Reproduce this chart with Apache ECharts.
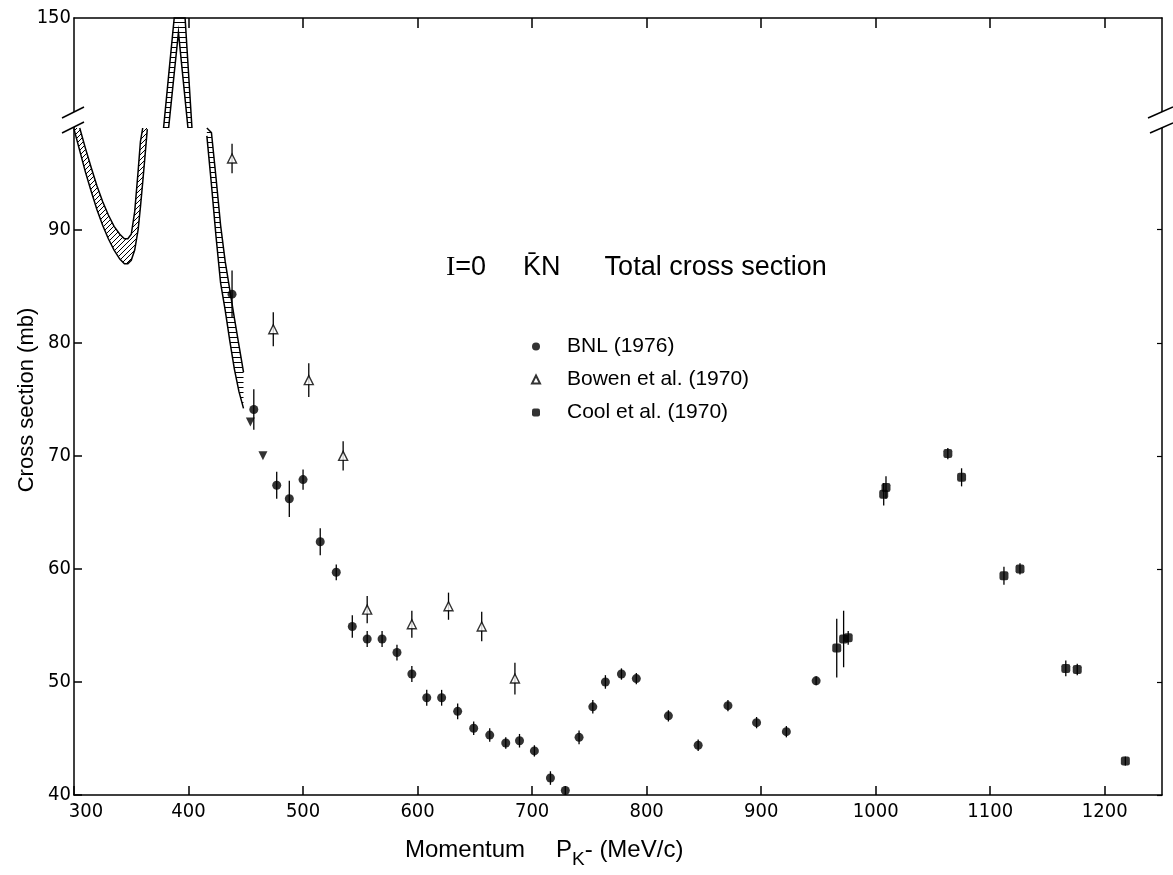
<!DOCTYPE html>
<html>
<head>
<meta charset="utf-8">
<title>I=0 KN total cross section</title>
<script src="https://cdn.jsdelivr.net/npm/echarts@6.0.0/dist/echarts.min.js"></script>
<style>
    html, body { margin: 0; padding: 0; background: #fff; }
    #chart { width: 1173px; height: 875px; }
</style>
</head>
<body>
<div id="chart"></div>
<script>
// tick labels
var xTicks = [300, 400, 500, 600, 700, 800, 900, 1000, 1100, 1200];
var xTopTicks = [400, 500, 600, 700, 800, 900, 1000, 1100, 1200];
var yTicks = [40, 50, 60, 70, 80, 90];
var yTopTicks = [150];

// BNL (1976)
var bnlX = [438, 457, 477, 488, 500, 515, 529, 543, 556, 569, 582, 595, 608, 621, 635, 649, 663, 677, 689, 702, 716, 729, 741, 753, 764, 778, 791, 819, 845, 871, 896, 922, 948];
var bnlY = [84.3, 74.1, 67.4, 66.2, 67.9, 62.4, 59.7, 54.9, 53.8, 53.8, 52.6, 50.7, 48.6, 48.6, 47.4, 45.9, 45.3, 44.6, 44.8, 43.9, 41.5, 40.4, 45.1, 47.8, 50.0, 50.7, 50.3, 47.0, 44.4, 47.9, 46.4, 45.6, 50.1];
var bnlErr = [2.1, 1.8, 1.2, 1.6, 0.9, 1.2, 0.7, 1.0, 0.7, 0.7, 0.7, 0.7, 0.7, 0.7, 0.7, 0.6, 0.6, 0.5, 0.6, 0.5, 0.6, 0.4, 0.6, 0.6, 0.6, 0.5, 0.5, 0.5, 0.5, 0.5, 0.5, 0.5, 0.4];

// Bowen et al. (1970)
var bowenX = [438, 474, 505, 535, 556, 595, 627, 656, 685];
var bowenY = [96.3, 81.2, 76.7, 70.0, 56.4, 55.1, 56.7, 54.9, 50.3];
var bowenErr = [1.3, 1.5, 1.5, 1.3, 1.2, 1.2, 1.2, 1.3, 1.4];

// Cool et al. (1970)
var coolX = [966, 972, 976, 1007, 1009, 1063, 1075, 1112, 1126, 1166, 1176, 1218];
var coolY = [53.0, 53.8, 53.9, 66.6, 67.2, 70.2, 68.1, 59.4, 60.0, 51.2, 51.1, 43.0];
var coolErr = [2.6, 2.5, 0.6, 1.0, 1.0, 0.5, 0.8, 0.8, 0.5, 0.7, 0.5, 0.4];

// filled down triangles (not in legend)
var otherX = [454, 465];
var otherY = [73.0, 70.0];

// hatched bands, lower panel (40-99)
var dipX  = [300, 305, 310, 315, 320, 325, 330, 335, 340, 344, 347, 350, 353, 356, 358, 360, 362, 364];
var dipLo = [98.9, 97.0, 95.1, 93.4, 91.8, 90.4, 89.2, 88.2, 87.4, 87.0, 87.0, 87.3, 88.2, 90.0, 92.0, 94.2, 96.5, 98.9];
var dipHi = [99.0, 99.0, 97.2, 95.5, 93.9, 92.5, 91.3, 90.3, 89.6, 89.2, 89.2, 89.6, 91.6, 95.2, 97.8, 99.0, 99.0, 99.0];

var fallX  = [416, 420, 424, 428, 432, 436, 440, 444, 448];
var fallLo = [98.3, 94.0, 89.4, 85.3, 82.9, 80.2, 77.7, 75.7, 74.2];
var fallHi = [99.0, 98.6, 94.6, 90.4, 87.2, 84.7, 82.2, 79.8, 77.4];

// hatched band, upper panel (100-150)
var peakX  = [378.2, 382.6, 387.5, 391.2, 394, 397, 399.5, 403];
var peakLo = [100, 100, 124.8, 143.5, 128.8, 113.1, 100, 100];
var peakHi = [100, 123.7, 150, 150, 150, 150, 129.2, 100];

var narrow = "'DejaVu Sans Condensed', 'Liberation Sans Narrow', 'Liberation Sans', sans-serif";
var sans = "'Liberation Sans', Arial, sans-serif";

function hatch(kind) {
    var c = document.createElement('canvas');
    c.width = 5;
    c.height = 5;
    var g = c.getContext('2d');
    g.strokeStyle = '#000';
    g.lineWidth = 1;
    g.beginPath();
    if (kind == 'diag') {
        g.moveTo(0, 5); g.lineTo(5, 0);
        g.moveTo(-1, 1); g.lineTo(1, -1);
        g.moveTo(4, 6); g.lineTo(6, 4);
    } else {
        g.moveTo(0, 2.5); g.lineTo(5, 2.5);
    }
    g.stroke();
    return { image: c, repeat: 'repeat' };
}

// keeps the outline open where the band runs into the axis break
function edgePoints(pts, vals, lowCap, highCap) {
    var out = [];
    for (var i = 0; i < pts.length; i++) {
        var cut = function (k) { return k < 0 || k >= vals.length || vals[k] <= lowCap || vals[k] >= highCap; };
        if (!cut(i) || !cut(i - 1) || !cut(i + 1)) out.push(pts[i]);
    }
    return out;
}

function band(xs, lo, hi, fill, axisIdx, yIdx, lowCap, highCap) {
    return {
        type: 'custom',
        xAxisIndex: axisIdx,
        yAxisIndex: yIdx,
        silent: true,
        z: 1,
        data: [[xs[0], lo[0]]],
        renderItem: function (params, api) {
            var bottom = [], top = [];
            for (var i = 0; i < xs.length; i++) {
                bottom.push(api.coord([xs[i], lo[i]]));
                top.push(api.coord([xs[i], hi[i]]));
            }
            var ring = bottom.concat(top.slice().reverse());
            return {
                type: 'group',
                children: [
                    { type: 'polygon', shape: { points: ring }, style: { fill: fill, stroke: null } },
                    { type: 'polyline', shape: { points: edgePoints(bottom, lo, lowCap, highCap) }, style: { fill: null, stroke: '#000', lineWidth: 1.5 } },
                    { type: 'polyline', shape: { points: edgePoints(top, hi, lowCap, highCap) }, style: { fill: null, stroke: '#000', lineWidth: 1.5 } }
                ]
            };
        }
    };
}

function errorBars(xs, ys, es) {
    var d = [];
    for (var i = 0; i < xs.length; i++) {
        d.push([xs[i], ys[i] - es[i], ys[i] + es[i]]);
    }
    return {
        type: 'custom',
        xAxisIndex: 0,
        yAxisIndex: 0,
        silent: true,
        z: 1,
        encode: { x: 0, y: [1, 2] },
        data: d,
        renderItem: function (params, api) {
            var a = api.coord([api.value(0), api.value(1)]);
            var b = api.coord([api.value(0), api.value(2)]);
            return {
                type: 'line',
                shape: { x1: a[0], y1: a[1], x2: b[0], y2: b[1] },
                style: { stroke: '#000', lineWidth: 1.3 }
            };
        }
    };
}

function pairs(xs, ys) {
    var d = [];
    for (var i = 0; i < xs.length; i++) d.push([xs[i], ys[i]]);
    return d;
}

var axisLine = { show: true, onZero: false, lineStyle: { color: '#000', width: 1.5 } };

var myChart = echarts.init(document.getElementById('chart'));
var option = {
    animation: false,
    backgroundColor: '#fff',
    title: {
        text: '{i|I}{a|=0}{b|K\u0304N}{c|Total cross section}',
        left: 441,
        top: 249,
        textStyle: {
            fontWeight: 'normal',
            rich: {
                i: { fontSize: 28, fontWeight: 'normal', fontFamily: "'Liberation Serif', serif", color: '#000' },
                a: { fontSize: 27, fontWeight: 'normal', fontFamily: sans, color: '#000' },
                b: { fontSize: 27, fontWeight: 'normal', fontFamily: sans, color: '#000', padding: [0, 0, 0, 37] },
                c: { fontSize: 27, fontWeight: 'normal', fontFamily: sans, color: '#000', padding: [0, 0, 0, 44] }
            }
        }
    },
    legend: {
        data: ['BNL (1976)', 'Bowen et al. (1970)', 'Cool et al. (1970)'],
        orient: 'vertical',
        left: 526,
        top: 331,
        itemWidth: 8,
        itemHeight: 8,
        itemGap: 12,
        selectedMode: false,
        textStyle: { fontSize: 21, fontFamily: sans, color: '#000', padding: [0, 0, 0, 22] }
    },
    grid: [
        { left: 74, right: 11, top: 128, bottom: 80 },
        { left: 74, right: 11, top: 18, height: 110 }
    ],
    xAxis: [
        {
            gridIndex: 0,
            type: 'value',
            min: 300,
            max: 1250,
            position: 'bottom',
            axisLine: axisLine,
            axisTick: { inside: true, length: 9, customValues: xTicks, lineStyle: { color: '#000', width: 1.5 } },
            axisLabel: {
                customValues: xTicks,
                margin: 7,
                color: '#000',
                fontSize: 20,
                fontFamily: narrow,
                formatter: function (v) {
                    return v == 300 ? '{f|300}' : String(v);
                },
                rich: {
                    f: { fontSize: 20, fontFamily: narrow, color: '#000', padding: [0, 0, 0, 24] }
                }
            },
            splitLine: { show: false }
        },
        {
            gridIndex: 1,
            type: 'value',
            min: 300,
            max: 1250,
            position: 'top',
            axisLine: axisLine,
            axisTick: { inside: true, length: 10, customValues: xTopTicks, lineStyle: { color: '#000', width: 1.5 } },
            axisLabel: { show: false },
            splitLine: { show: false }
        }
    ],
    yAxis: [
        {
            gridIndex: 0,
            type: 'value',
            min: 40,
            max: 99,
            position: 'left',
            axisLine: axisLine,
            axisTick: { inside: true, length: 8, customValues: yTicks, lineStyle: { color: '#000', width: 1.5 } },
            axisLabel: { customValues: yTicks, margin: 3, color: '#000', fontSize: 20, fontFamily: narrow },
            splitLine: { show: false }
        },
        {
            gridIndex: 0,
            type: 'value',
            min: 40,
            max: 99,
            position: 'right',
            axisLine: axisLine,
            axisTick: { inside: true, length: 5, customValues: yTicks, lineStyle: { color: '#000', width: 1.2 } },
            axisLabel: { show: false },
            splitLine: { show: false }
        },
        {
            gridIndex: 1,
            type: 'value',
            min: 100,
            max: 150,
            position: 'left',
            axisLine: axisLine,
            axisTick: { show: false },
            axisLabel: { customValues: yTopTicks, margin: 3, color: '#000', fontSize: 20, fontFamily: narrow },
            splitLine: { show: false }
        },
        {
            gridIndex: 1,
            type: 'value',
            min: 100,
            max: 150,
            position: 'right',
            axisLine: axisLine,
            axisTick: { show: false },
            axisLabel: { show: false },
            splitLine: { show: false }
        }
    ],
    graphic: [
        // axis break marks
        { type: 'polygon', z: 100, shape: { points: [[62, 118], [84, 107], [84, 122], [62, 133]] }, style: { fill: '#fff' } },
        { type: 'line', z: 101, shape: { x1: 62, y1: 118, x2: 84, y2: 107 }, style: { stroke: '#000', lineWidth: 1.5 } },
        { type: 'line', z: 101, shape: { x1: 62, y1: 133, x2: 84, y2: 122 }, style: { stroke: '#000', lineWidth: 1.5 } },
        { type: 'polygon', z: 100, shape: { points: [[1148, 118], [1173, 107], [1173, 123], [1150, 133]] }, style: { fill: '#fff' } },
        { type: 'line', z: 101, shape: { x1: 1148, y1: 118, x2: 1173, y2: 107 }, style: { stroke: '#000', lineWidth: 1.5 } },
        { type: 'line', z: 101, shape: { x1: 1150, y1: 133, x2: 1173, y2: 123 }, style: { stroke: '#000', lineWidth: 1.5 } },
        // axis names
        {
            type: 'text', z: 100, x: 27, y: 400, rotation: Math.PI / 2,
            style: { text: 'Cross section (mb)', font: '22px ' + sans, fill: '#000', textAlign: 'center', textVerticalAlign: 'middle' }
        },
        {
            type: 'text', z: 100, x: 405, y: 850,
            style: {
                text: '{a|Momentum}{p|P}{s|K}{a|- (MeV/c)}',
                textAlign: 'left',
                textVerticalAlign: 'middle',
                rich: {
                    a: { fontSize: 24, fontFamily: sans, fill: '#000' },
                    p: { fontSize: 24, fontFamily: sans, fill: '#000', padding: [0, 0, 0, 31] },
                    s: { fontSize: 19, fontFamily: sans, fill: '#000', padding: [20, 0, 0, 0] }
                }
            }
        }
    ],
    series: [
        band(dipX, dipLo, dipHi, hatch('diag'), 0, 0, 40, 99),
        band(fallX, fallLo, fallHi, hatch('flat'), 0, 0, 40, 99),
        band(peakX, peakLo, peakHi, hatch('flat'), 1, 2, 100, 150),
        errorBars(bnlX, bnlY, bnlErr),
        errorBars(bowenX, bowenY, bowenErr),
        errorBars(coolX, coolY, coolErr),
        {
            name: 'BNL (1976)',
            type: 'scatter',
            xAxisIndex: 0,
            yAxisIndex: 0,
            z: 3,
            symbol: 'circle',
            symbolSize: 9,
            itemStyle: { color: '#000' },
            data: pairs(bnlX, bnlY)
        },
        {
            name: 'Bowen et al. (1970)',
            type: 'scatter',
            xAxisIndex: 0,
            yAxisIndex: 0,
            z: 3,
            symbol: 'triangle',
            symbolSize: 9,
            itemStyle: { color: '#fff', borderColor: '#000', borderWidth: 1.4 },
            data: pairs(bowenX, bowenY)
        },
        {
            name: 'Cool et al. (1970)',
            type: 'scatter',
            xAxisIndex: 0,
            yAxisIndex: 0,
            z: 3,
            symbol: 'roundRect',
            symbolSize: 9,
            itemStyle: { color: '#000' },
            data: pairs(coolX, coolY)
        },
        {
            type: 'scatter',
            xAxisIndex: 0,
            yAxisIndex: 0,
            z: 3,
            symbol: 'path://M0,0L10,0L5,9Z',
            symbolSize: 9,
            itemStyle: { color: '#000' },
            data: pairs(otherX, otherY)
        }
    ]
};
myChart.setOption(option);
</script>
</body>
</html>
